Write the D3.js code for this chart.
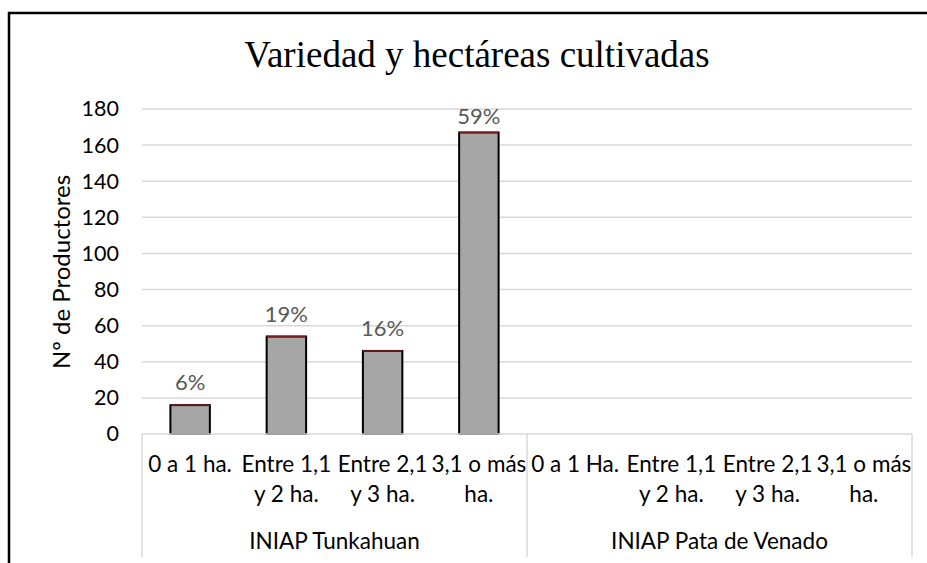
<!DOCTYPE html>
<html>
<head>
<meta charset="utf-8">
<script src="https://cdn.jsdelivr.net/npm/d3@7"></script>
<style>
  body { margin: 0; background: #fff; }
  svg { display: block; }
</style>
</head>
<body>
<div id="chart"></div>
<script>
// data
const groups = ['INIAP Tunkahuan', 'INIAP Pata de Venado'];
const sizeLabels = [
  '0 a 1 ha.', 'Entre 1,1\ny 2 ha.', 'Entre 2,1\ny 3 ha.', '3,1 o más\nha.',
  '0 a 1 Ha.', 'Entre 1,1\ny 2 ha.', 'Entre 2,1\ny 3 ha.', '3,1 o más\nha.'
];
const productores = [16, 54, 46, 167, null, null, null, null];
const percentLabels = ['6%', '19%', '16%', '59%', '', '', '', ''];
const yTicks = [0, 20, 40, 60, 80, 100, 120, 140, 160, 180];

const W = 927, H = 563;
const font = 'Lato, "Open Sans", sans-serif';
const plot = { left: 142, right: 912, top: 109, bottom: 434 };

const svg = d3.select('#chart').append('svg')
  .attr('width', W)
  .attr('height', H);

// outer chart border (right/bottom run off the picture)
svg.append('rect')
  .attr('x', 9).attr('y', 13)
  .attr('width', 940).attr('height', 620)
  .attr('fill', 'none')
  .attr('stroke', '#000')
  .attr('stroke-width', 2.5);

svg.append('text')
  .attr('x', 477)
  .attr('y', 67)
  .attr('text-anchor', 'middle')
  .style('font-family', '"Liberation Serif", "Times New Roman", serif')
  .style('font-size', '37px')
  .attr('fill', '#000')
  .text('Variedad y hectáreas cultivadas');

const x = d3.scaleBand()
  .domain(d3.range(sizeLabels.length))
  .range([plot.left, plot.right])
  .padding(0);

const y = d3.scaleLinear()
  .domain([0, 180])
  .range([plot.bottom, plot.top]);

// gridlines
svg.append('g')
  .selectAll('line')
  .data(yTicks.filter(d => d > 0))
  .join('line')
  .attr('x1', plot.left).attr('x2', plot.right)
  .attr('y1', d => y(d)).attr('y2', d => y(d))
  .attr('stroke', '#d9d9d9')
  .attr('stroke-width', 1.5);

// y axis labels
const yAxis = d3.axisLeft(y).tickValues(yTicks).tickSize(0).tickPadding(0);
const yg = svg.append('g')
  .attr('transform', `translate(119,0)`)
  .call(yAxis);
yg.select('.domain').remove();
yg.selectAll('text')
  .style('font-family', font)
  .style('font-size', '21.5px')
  .attr('fill', '#000');

svg.append('text')
  .attr('transform', `translate(70,272) rotate(-90)`)
  .attr('text-anchor', 'middle')
  .style('font-family', font)
  .style('font-size', '24px')
  .attr('fill', '#000')
  .text('Nº de Productores');

// bars
const barW = x.bandwidth() * 0.41;
const bars = svg.append('g')
  .selectAll('g')
  .data(productores.map((v, i) => ({ v, i })).filter(d => d.v != null))
  .join('g');

bars.append('rect')
  .attr('x', d => x(d.i) + (x.bandwidth() - barW) / 2)
  .attr('y', d => y(d.v))
  .attr('width', barW)
  .attr('height', d => y(0) - y(d.v))
  .attr('fill', '#a6a6a6')
  .attr('stroke', '#000')
  .attr('stroke-width', 2);

bars.append('line')
  .attr('x1', d => x(d.i) + (x.bandwidth() - barW) / 2)
  .attr('x2', d => x(d.i) + (x.bandwidth() + barW) / 2)
  .attr('y1', d => y(d.v)).attr('y2', d => y(d.v))
  .attr('stroke', '#7a1f1f')
  .attr('stroke-width', 1.5);

bars.append('text')
  .attr('x', d => x(d.i) + x.bandwidth() / 2)
  .attr('y', d => Math.max(y(d.v) - 15, plot.top + 15))
  .attr('text-anchor', 'middle')
  .style('font-family', font)
  .style('font-size', '22px')
  .attr('fill', '#595959')
  .text(d => percentLabels[d.i]);

// category axis
svg.append('line')
  .attr('x1', plot.left).attr('x2', plot.right)
  .attr('y1', plot.bottom).attr('y2', plot.bottom)
  .attr('stroke', '#d9d9d9')
  .attr('stroke-width', 1.5);

const nPer = sizeLabels.length / groups.length;
svg.append('g')
  .selectAll('line')
  .data(d3.range(groups.length + 1))
  .join('line')
  .attr('x1', d => d < groups.length ? x(d * nPer) : plot.right)
  .attr('x2', d => d < groups.length ? x(d * nPer) : plot.right)
  .attr('y1', plot.bottom).attr('y2', 557)
  .attr('stroke', '#d9d9d9')
  .attr('stroke-width', 1.5);

const catText = svg.append('g')
  .selectAll('text')
  .data(sizeLabels)
  .join('text')
  .attr('x', (d, i) => x(i) + x.bandwidth() / 2)
  .attr('y', 472)
  .attr('text-anchor', 'middle')
  .style('font-family', font)
  .style('font-size', '22.5px')
  .attr('fill', '#000');

catText.selectAll('tspan')
  .data(d => d.split('\n'))
  .join('tspan')
  .attr('x', function () { return this.parentNode.getAttribute('x'); })
  .attr('dy', (d, i) => i === 0 ? 0 : 30)
  .text(d => d);

svg.append('g')
  .selectAll('text')
  .data(groups)
  .join('text')
  .attr('x', (d, i) => (x(i * nPer) + x(i * nPer + nPer - 1) + x.bandwidth()) / 2)
  .attr('y', 549)
  .attr('text-anchor', 'middle')
  .style('font-family', font)
  .style('font-size', '22.5px')
  .attr('fill', '#000')
  .text(d => d);
</script>
</body>
</html>
